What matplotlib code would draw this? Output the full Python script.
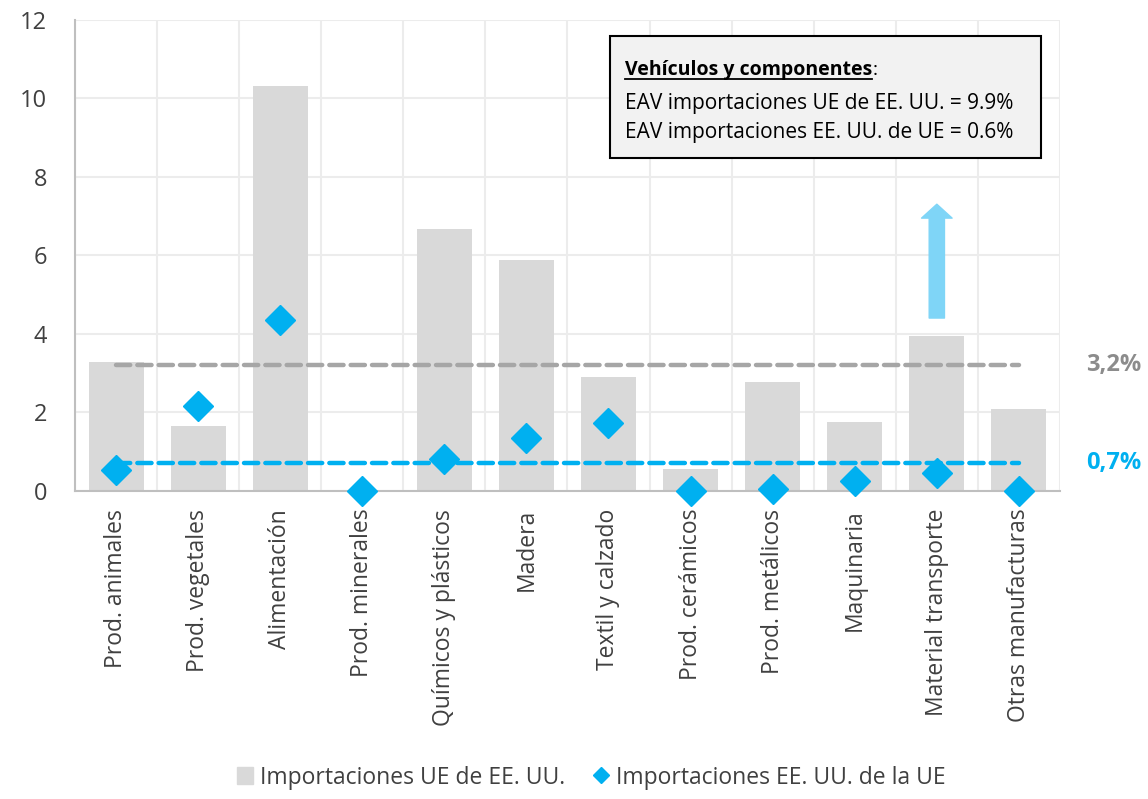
import numpy as np
import matplotlib
matplotlib.use("Agg")
import matplotlib.pyplot as plt
from matplotlib.patches import Rectangle, FancyArrowPatch
from matplotlib.lines import Line2D

plt.rcParams['font.family'] = ['Open Sans', 'DejaVu Sans']

# datos
categorias = ["Prod. animales", "Prod. vegetales", "Alimentación", "Prod. minerales",
              "Químicos y plásticos", "Madera", "Textil y calzado", "Prod. cerámicos",
              "Prod. metálicos", "Maquinaria", "Material transporte", "Otras manufacturas"]
imp_ue_de_eeuu = [3.28, 1.65, 10.3, 0.0, 6.66, 5.89, 2.89, 0.55, 2.78, 1.76, 3.93, 2.07]
imp_eeuu_de_ue = [0.53, 2.17, 4.34, 0.0, 0.8, 1.35, 1.73, 0.0, 0.04, 0.25, 0.46, 0.0]
media_ue = 3.2
media_eeuu = 0.7
flecha_desde, flecha_hasta = 4.4, 7.3

gris_barra = "#d9d9d9"
azul = "#00b0f0"
gris_linea = "#a6a6a6"

fig = plt.figure(figsize=(11.48, 7.99), dpi=100)
ax = fig.add_axes([0.0653, 0.3858, 0.858, 0.5895])

x = np.arange(len(categorias))
ax.bar(x, imp_ue_de_eeuu, width=0.67, color=gris_barra, zorder=2,
       label="Importaciones UE de EE. UU.")
ax.plot(x, imp_eeuu_de_ue, linestyle="none", marker="D", markersize=15,
        color=azul, zorder=5, clip_on=False, label="Importaciones EE. UU. de la UE")

# lineas de medias
ax.plot([x[0], x[-1]], [media_ue, media_ue], color=gris_linea, lw=3.2,
        dashes=(3.2, 1.6), dash_capstyle="round", zorder=3)
ax.plot([x[0], x[-1]], [media_eeuu, media_eeuu], color=azul, lw=3.2,
        dashes=(3.2, 1.6), dash_capstyle="round", zorder=4)

tr = matplotlib.transforms.blended_transform_factory(ax.transAxes, ax.transData)
ax.text(1.027, media_ue, "3,2%", transform=tr, color="#8c8c8c", fontsize=17,
        fontweight="bold", va="center", ha="left", clip_on=False)
ax.text(1.027, media_eeuu, "0,7%", transform=tr, color=azul, fontsize=17,
        fontweight="bold", va="center", ha="left", clip_on=False)

# flecha material transporte
arr = FancyArrowPatch((x[10], flecha_desde), (x[10], flecha_hasta),
                      arrowstyle="simple,head_length=1.0,head_width=2.2,tail_width=1.1",
                      mutation_scale=10, color="#7fd5f7", shrinkA=0, shrinkB=0, zorder=4)
ax.add_patch(arr)

ax.set_xlim(-0.5, len(categorias) - 0.5)
ax.set_ylim(0, 12)
ax.set_yticks(np.arange(0, 13, 2))
ax.set_xticks(x)
ax.set_xticklabels(categorias, rotation=90, fontsize=16.5, color="#404040")
ax.tick_params(axis="y", labelsize=17, labelcolor="#404040", length=0, pad=20)
ax.tick_params(axis="x", length=0, pad=13)
ax.set_xticks(np.arange(-0.5, len(categorias), 1), minor=True)
ax.tick_params(axis="x", which="minor", length=0)
ax.grid(axis="y", color="#ececec", lw=1.5, zorder=0)
ax.grid(axis="x", which="minor", color="#ececec", lw=1.5, zorder=0)
for s in ["top", "right"]:
    ax.spines[s].set_visible(False)
ax.spines["left"].set_color("#bfbfbf")
ax.spines["bottom"].set_color("#bfbfbf")
ax.spines["left"].set_linewidth(1.5)
ax.spines["bottom"].set_linewidth(1.5)

# recuadro de vehiculos
fig.patches.append(Rectangle((0.531, 0.802), 0.376, 0.153, transform=fig.transFigure,
                             facecolor="#f2f2f2", edgecolor="black", lw=1.5, zorder=1))
t = fig.text(0.5445, 0.912, "Vehículos y componentes", fontsize=14, fontweight="bold",
             va="center", color="black")
fig.canvas.draw()
bb = t.get_window_extent().transformed(fig.transFigure.inverted())
fig.lines.append(Line2D([bb.x0, bb.x1], [bb.y0 + 0.002, bb.y0 + 0.002],
                        transform=fig.transFigure, color="black", lw=1.3))
fig.text(bb.x1, 0.912, ":", fontsize=14, va="center")
fig.text(0.5445, 0.871, "EAV importaciones UE de EE. UU. = 9.9%", fontsize=15, va="center")
fig.text(0.5445, 0.834, "EAV importaciones EE. UU. de UE = 0.6%", fontsize=15, va="center")

# leyenda
h1 = Rectangle((0, 0), 1, 1, color=gris_barra)
h2 = Line2D([], [], linestyle="none", marker="D", markersize=8.5, color=azul)
fig.legend([h1, h2], ["Importaciones UE de EE. UU.", "Importaciones EE. UU. de la UE"],
           loc="lower center", bbox_to_anchor=(0.515, -0.014), ncol=2, frameon=False,
           fontsize=16.5, handlelength=0.7, handleheight=0.8, handletextpad=0.3,
           columnspacing=1.2, labelcolor="#404040")

fig.savefig("out.png", dpi=100)
